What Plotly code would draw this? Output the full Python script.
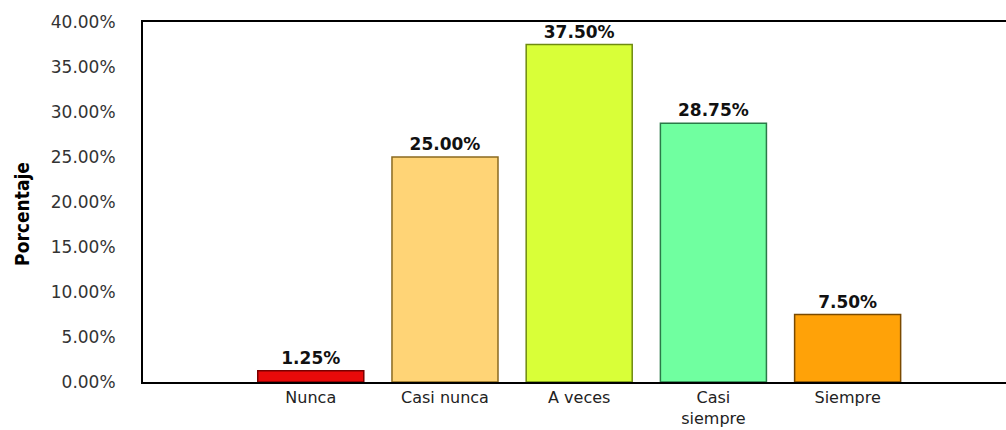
import plotly.graph_objects as go

categories = ["Nunca", "Casi nunca", "A veces", "Casi siempre", "Siempre"]
tick_labels = ["Nunca", "Casi nunca", "A veces", "Casi<br>siempre", "Siempre"]
values = [1.25, 25.00, 37.50, 28.75, 7.50]
y_ticks = [0, 5, 10, 15, 20, 25, 30, 35, 40]
y_tick_labels = ["0.00%", "5.00%", "10.00%", "15.00%", "20.00%", "25.00%", "30.00%", "35.00%", "40.00%"]
bar_colors = ["#E80A0A", "#FFD476", "#D9FF38", "#70FFA0", "#FFA208"]
edge_colors = ["#7A0000", "#8A6A20", "#6E8A10", "#2A7A48", "#7A4A00"]

fig = go.Figure(
    go.Bar(
        x=categories,
        y=values,
        marker=dict(color=bar_colors, line=dict(color=edge_colors, width=1.5)),
        texttemplate="%{y:.2f}%",
        textposition="outside",
        textfont=dict(family="DejaVu Sans", size=17, color="#111111", weight="bold"),
        cliponaxis=False,
        width=0.79,
    )
)

fig.update_layout(
    width=1006,
    height=430,
    margin=dict(l=143, r=0, t=22, b=48),
    paper_bgcolor="white",
    plot_bgcolor="white",
    showlegend=False,
    xaxis=dict(
        type="category",
        categoryorder="array",
        categoryarray=categories,
        tickvals=categories,
        ticktext=tick_labels,
        range=[-1.25, 5.18],
        showline=True,
        linecolor="black",
        linewidth=2,
        mirror=True,
        showgrid=False,
        ticks="",
        tickfont=dict(family="DejaVu Sans", size=16, color="#222222"),
        ticklabelstandoff=0,
        automargin=False,
    ),
    yaxis=dict(
        range=[0, 40],
        tickvals=y_ticks,
        ticktext=y_tick_labels,
        showline=True,
        linecolor="black",
        linewidth=2,
        showgrid=False,
        zeroline=False,
        ticks="",
        tickfont=dict(family="DejaVu Sans", size=17, color="#333333"),
        ticklabelstandoff=22,
        automargin=False,
    ),
    annotations=[
        dict(
            text="<b>Porcentaje</b>",
            textangle=-90,
            xref="paper",
            yref="paper",
            x=0,
            y=0.467,
            xshift=-121,
            xanchor="center",
            yanchor="middle",
            showarrow=False,
            font=dict(family="Liberation Sans Narrow, DejaVu Sans Condensed, sans-serif", size=19, color="black"),
        )
    ],
)

fig.write_html("out.html")
